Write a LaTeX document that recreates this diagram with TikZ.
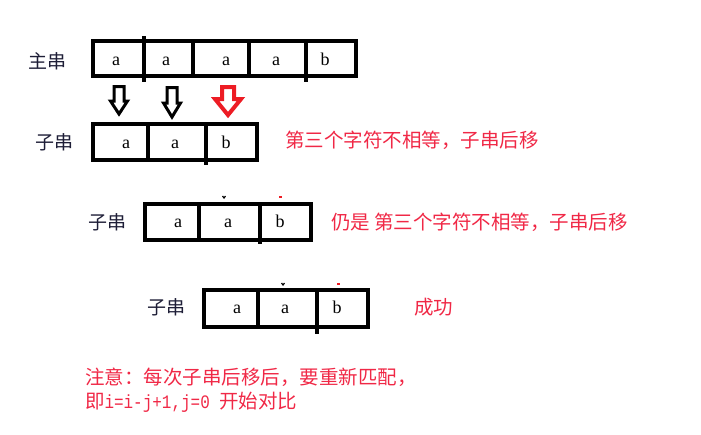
\documentclass[tikz,border=0pt]{standalone}
\usepackage{fontspec}
\setmainfont{Liberation Serif}
\newfontfamily\cjk{Noto Sans CJK SC}
\newfontfamily\asciimono[FakeStretch=0.84]{Liberation Mono}
\definecolor{notered}{RGB}{240,40,70}
\definecolor{arrowred}{RGB}{237,28,36}
\definecolor{labelink}{RGB}{30,30,55}

\tikzset{every path/.style={line width=4pt}}
\tikzset{
  strbox/.style={draw=black,line width=4pt,line join=miter},
  cell/.style={font=\fontsize{18}{18}\selectfont,anchor=base,inner sep=0pt},
  tag/.style={font=\cjk\fontsize{19}{19}\selectfont,text=labelink,inner sep=0pt},
  remark/.style={font=\cjk\fontsize{19.5}{19.5}\selectfont,text=notered,anchor=west,inner sep=0pt},
  hollow/.style={draw,line width=3pt,line join=miter,fill=white},
  speck/.style={line width=1.2pt}
}

\begin{document}
\begin{tikzpicture}[x=1pt,y=-1pt]
    \useasboundingbox (0,0) rectangle (701,434);
    % main string
    \node[tag] (mainlbl) at (47.5,61) {主串};
    \draw[strbox] (93,40.5) rectangle (356,75.5);
    \draw[strbox] (144,36) -- (144,82);
    \draw[strbox] (193,40.5) -- (193,75.5);
    \draw[strbox] (249,40.5) -- (249,75.5);
    \draw[strbox] (306,40.5) -- (306,82);
    \node[cell] (m1) at (116,65) {a};
    \node[cell] (m2) at (166,65) {a};
    \node[cell] (m3) at (226,65) {a};
    \node[cell] (m4) at (276,65) {a};
    \node[cell] (m5) at (325,65) {b};
    % compare arrows
    \draw[hollow] (114,86.5) -- (124,86.5) -- (124,101) -- (127.5,101) -- (119,114)
      -- (110.5,101) -- (114,101) -- cycle;
    \draw[hollow] (167,87.5) -- (177,87.5) -- (177,103) -- (180.5,103) -- (172,117)
      -- (163.5,103) -- (167,103) -- cycle;
    \draw[hollow,draw=arrowred,line width=4pt] (222,87) -- (234,87) -- (234,99) -- (241,99)
      -- (228,115) -- (215,99) -- (222,99) -- cycle;
    % pattern, first try
    \node[tag] (sublblA) at (54,142) {子串};
    \draw[strbox] (93,124) rectangle (257,160);
    \draw[strbox] (148,124) -- (148,160);
    \draw[strbox] (206,124) -- (206,165);
    \node[cell] (a1) at (126,148) {a};
    \node[cell] (a2) at (175,148) {a};
    \node[cell] (a3) at (226,148) {b};
    \node[remark] (noteA) at (283,140) {第三个字符不相等，子串后移};
    % pattern, second try
    \node[tag] (sublblB) at (107,222) {子串};
    \draw[strbox] (145,204) rectangle (311,240);
    \draw[strbox] (199,204) -- (199,240);
    \draw[strbox] (260,204) -- (260,244);
    \node[cell] (b1) at (178,227) {a};
    \node[cell] (b2) at (228,227) {a};
    \node[cell] (b3) at (280,227) {b};
    \draw[speck] (222.5,196) -- (224,198) -- (225.5,196);
    \draw[speck,draw=arrowred] (279,197) -- (281.5,197);
    \node[remark] (noteB) at (329,222) {仍是 第三个字符不相等，子串后移};
    % pattern, third try
    \node[tag] (sublblC) at (166,307) {子串};
    \draw[strbox] (204,290) rectangle (368,327);
    \draw[strbox] (258,290) -- (258,327);
    \draw[strbox] (317,290) -- (317,334);
    \node[cell] (c1) at (237,313) {a};
    \node[cell] (c2) at (285,313) {a};
    \node[cell] (c3) at (337,313) {b};
    \draw[speck] (281.5,283) -- (283,285) -- (284.5,283);
    \draw[speck,draw=arrowred] (337,284) -- (339.5,284);
    \node[remark] (noteC) at (412,307) {成功};
    % remark at the bottom
    \node[remark] (tipA) at (83,377) {注意：每次子串后移后，要重新匹配，};
    \node[remark] (tipB) at (83,402) {即{\asciimono\fontsize{19}{19}\selectfont i=i-j+1,j=0 }开始对比};
\end{tikzpicture}
\end{document}
